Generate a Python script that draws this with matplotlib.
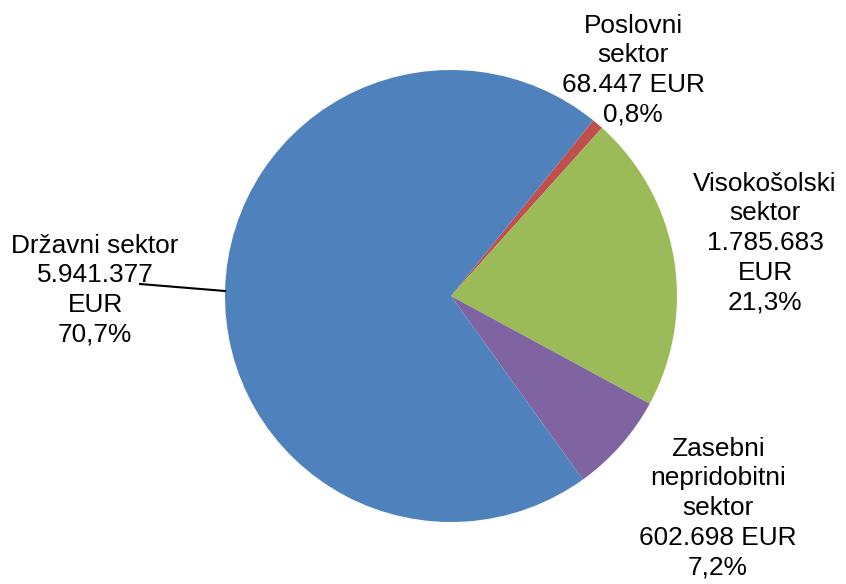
import matplotlib
matplotlib.use('Agg')
from matplotlib import pyplot as plt

# sectors in drawing order (clockwise from the blue/red edge)
sektorji = ['Poslovni\nsektor', 'Visokošolski\nsektor', 'Zasebni\nnepridobitni\nsektor', 'Državni sektor']
zneski = [68447, 1785683, 602698, 5941377]
zneski_txt = ['68.447 EUR', '1.785.683\nEUR', '602.698 EUR', '5.941.377\nEUR']
odstotki = ['0,8%', '21,3%', '7,2%', '70,7%']
barve = ['#C0504D', '#9BBB59', '#8064A2', '#4F81BD']

plt.rcParams['font.family'] = ['Liberation Sans', 'DejaVu Sans']

fig = plt.figure()
fig.set_size_inches(8.46, 5.84)
ax = fig.add_axes([0, 0, 1, 1])

ax.pie(zneski, colors=barve, startangle=51, counterclock=False,
       center=(451, 288), radius=226, frame=True)
ax.set_xlim(0, 846)
ax.set_ylim(0, 584)
ax.set_aspect('equal')
ax.axis('off')

# label positions (pixel coords, y up)
pozicije = [(633, 514), (765, 341), (718, 76), (95, 294)]
for i in range(len(sektorji)):
    besedilo = sektorji[i] + '\n' + zneski_txt[i] + '\n' + odstotki[i]
    ax.text(pozicije[i][0], pozicije[i][1], besedilo, ha='center', va='center',
            fontsize=18.9, linespacing=1.29, color='black')

# leader line for Drzavni sektor
ax.plot([140, 225], [300, 293], color='black', lw=1.5)

fig.savefig('out.png', dpi=100, facecolor='white')
